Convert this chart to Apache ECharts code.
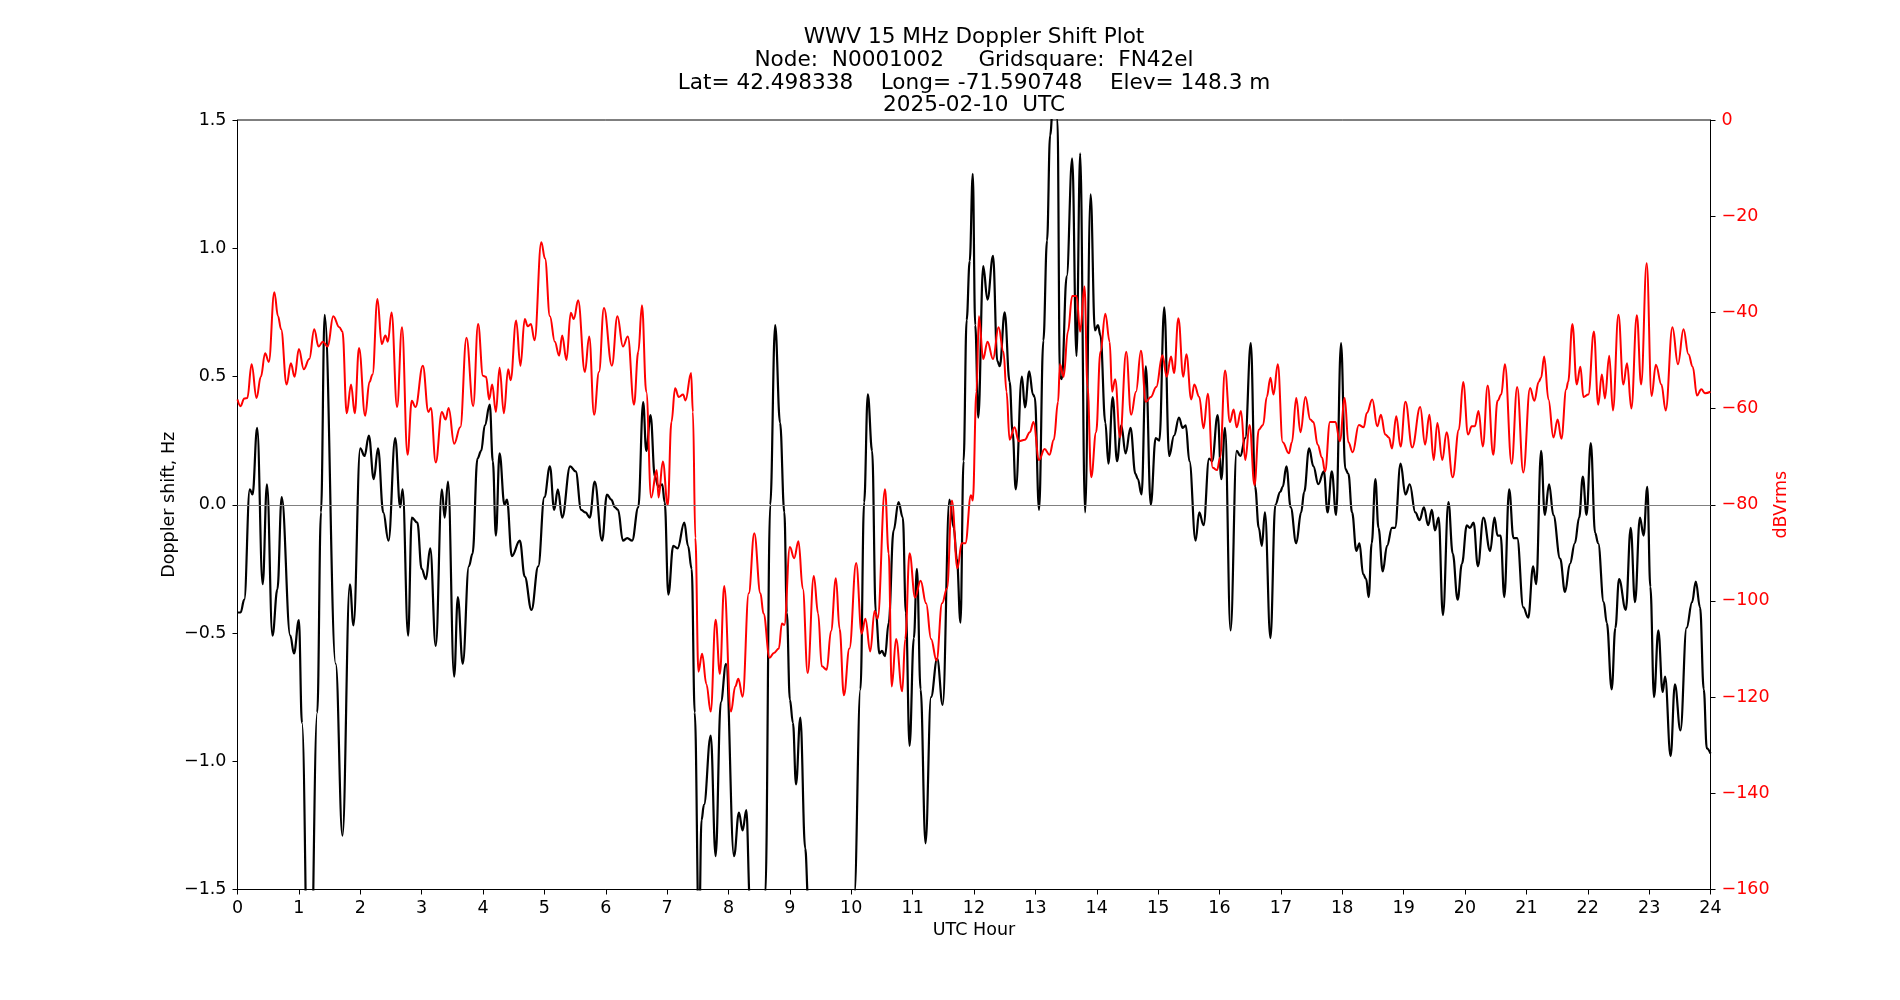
<!DOCTYPE html>
<html>
<head>
<meta charset="utf-8">
<script src="https://cdn.jsdelivr.net/npm/echarts@6/dist/echarts.min.js"></script>
<style>
html,body{margin:0;padding:0;background:#fff;}
#chart{width:1900px;height:1000px;}
</style>
</head>
<body>
<div id="chart"></div>
<script>
const titleLines = [
  'WWV 15 MHz Doppler Shift Plot',
  'Node:  N0001002     Gridsquare:  FN42el',
  'Lat= 42.498338    Long= -71.590748    Elev= 148.3 m',
  '2025-02-10  UTC'
];
const xAxisName = 'UTC Hour';
const leftAxisName = 'Doppler shift, Hz';
const rightAxisName = 'dBVrms';

const dopplerHours = [0.00,0.05,0.11,0.20,0.245,0.32,0.41,0.48,0.57,0.65,0.72,0.86,0.92,1.00,1.05,1.17,1.30,1.36,1.42,1.60,1.71,1.83,1.89,2.00,2.07,2.14,2.22,2.29,2.375,2.46,2.57,2.65,2.69,2.78,2.84,2.93,3.00,3.07,3.14,3.23,3.33,3.375,3.43,3.53,3.59,3.67,3.77,3.83,3.91,3.97,4.03,4.11,4.16,4.21,4.27,4.35,4.39,4.47,4.60,4.68,4.79,4.90,5.00,5.09,5.16,5.22,5.29,5.42,5.51,5.60,5.67,5.74,5.82,5.94,6.02,6.09,6.15,6.20,6.28,6.35,6.43,6.53,6.61,6.66,6.73,6.80,6.86,6.92,6.96,7.02,7.10,7.17,7.28,7.34,7.40,7.45,7.52,7.56,7.60,7.71,7.79,7.875,7.96,8.09,8.17,8.23,8.29,8.35,8.47,8.60,8.68,8.76,8.84,8.91,8.95,9.00,9.05,9.10,9.17,9.25,9.30,9.65,10.05,10.15,10.21,10.27,10.34,10.40,10.46,10.50,10.55,10.61,10.69,10.77,10.84,10.89,10.95,11.02,11.07,11.13,11.21,11.30,11.40,11.49,11.60,11.67,11.72,11.78,11.83,11.88,11.93,11.98,12.02,12.07,12.15,12.22,12.31,12.38,12.42,12.50,12.58,12.63,12.68,12.78,12.83,12.90,12.96,12.99,13.06,13.13,13.19,13.24,13.30,13.36,13.40,13.43,13.51,13.60,13.67,13.73,13.81,13.90,13.97,14.02,14.06,14.14,14.19,14.26,14.33,14.40,14.47,14.55,14.63,14.67,14.73,14.80,14.88,14.96,15.02,15.10,15.18,15.26,15.34,15.40,15.45,15.51,15.61,15.67,15.74,15.83,15.88,15.97,16.03,16.09,16.18,16.28,16.34,16.42,16.51,16.58,16.64,16.69,16.74,16.83,16.91,16.99,17.03,17.09,17.16,17.25,17.33,17.38,17.46,17.53,17.61,17.70,17.76,17.83,17.90,17.98,18.05,18.10,18.16,18.23,18.28,18.34,18.39,18.43,18.48,18.54,18.59,18.66,18.73,18.81,18.86,18.95,19.03,19.10,19.19,19.26,19.33,19.40,19.46,19.51,19.57,19.64,19.73,19.80,19.88,19.95,20.03,20.08,20.14,20.21,20.30,20.41,20.48,20.53,20.58,20.64,20.72,20.79,20.85,20.95,21.03,21.11,21.16,21.24,21.30,21.37,21.44,21.55,21.63,21.71,21.79,21.86,21.92,21.98,22.05,22.12,22.17,22.26,22.31,22.39,22.45,22.51,22.62,22.70,22.77,22.85,22.91,22.97,23.02,23.08,23.15,23.22,23.26,23.35,23.42,23.51,23.61,23.70,23.76,23.83,23.89,23.94,24.00];
const dopplerValues = [-0.42,-0.42,-0.37,0.06,0.04,0.30,-0.31,0.08,-0.51,-0.33,0.03,-0.51,-0.58,-0.45,-0.85,-2.2,-0.81,-0.03,0.74,-0.62,-1.29,-0.31,-0.47,0.22,0.19,0.27,0.10,0.22,-0.03,-0.14,0.26,-0.01,0.06,-0.51,-0.05,-0.07,-0.25,-0.29,-0.17,-0.55,0.06,-0.05,0.09,-0.67,-0.36,-0.62,-0.24,-0.19,0.18,0.21,0.31,0.39,0.17,-0.12,0.20,0.0,0.02,-0.20,-0.14,-0.28,-0.41,-0.24,0.03,0.15,-0.02,0.06,-0.05,0.15,0.13,-0.02,-0.03,-0.05,0.09,-0.14,0.04,0.02,-0.01,-0.02,-0.14,-0.13,-0.14,-0.01,0.40,0.21,0.35,0.11,0.07,0.08,0.01,-0.35,-0.16,-0.17,-0.07,-0.16,-0.25,-0.81,-1.7,-1.23,-1.17,-0.90,-1.37,-0.77,-0.62,-1.37,-1.20,-1.27,-1.19,-1.55,-1.95,-1.52,0.0,0.70,0.32,-0.03,-0.42,-0.76,-0.85,-1.09,-0.83,-1.34,-1.55,-2.3,-1.52,-0.72,0.01,0.43,0.21,-0.42,-0.58,-0.57,-0.59,-0.46,-0.10,0.01,-0.05,-0.42,-0.94,-0.52,-0.25,-0.72,-1.32,-0.75,-0.60,-0.78,0.02,-0.09,-0.21,-0.46,0.17,0.72,0.95,1.29,0.70,0.34,0.93,0.80,0.97,0.56,0.54,0.75,0.48,0.28,0.06,0.50,0.38,0.52,0.43,0.42,-0.02,0.64,1.03,1.44,1.62,1.50,0.50,0.49,0.89,1.35,0.58,1.37,-0.03,1.21,0.68,0.70,0.66,0.32,0.16,0.42,0.17,0.31,0.20,0.30,0.12,0.10,0.04,0.54,0.00,0.26,0.25,0.77,0.19,0.27,0.34,0.30,0.31,0.17,-0.14,-0.03,-0.08,0.18,0.17,0.35,0.10,0.30,-0.49,0.21,0.19,0.26,0.63,0.07,-0.09,-0.16,-0.03,-0.52,0.0,0.05,0.07,0.15,-0.01,-0.15,-0.03,0.05,0.22,0.15,0.08,0.13,-0.03,0.13,-0.04,0.63,0.14,0.12,-0.03,-0.18,-0.15,-0.27,-0.29,-0.36,-0.15,0.10,-0.09,-0.26,-0.16,-0.09,-0.09,0.16,0.04,0.08,-0.03,-0.06,-0.01,-0.08,-0.02,-0.10,-0.05,-0.43,0.01,-0.19,-0.37,-0.23,-0.08,-0.09,-0.07,-0.24,-0.05,-0.18,-0.05,-0.12,-0.12,-0.36,0.06,-0.13,-0.13,-0.40,-0.44,-0.24,-0.31,0.21,-0.04,0.08,-0.04,-0.21,-0.34,-0.23,-0.15,-0.05,0.11,-0.04,0.24,-0.11,-0.15,-0.38,-0.46,-0.72,-0.48,-0.29,-0.41,-0.09,-0.38,-0.05,-0.12,0.07,-0.32,-0.75,-0.49,-0.73,-0.67,-0.98,-0.70,-0.88,-0.48,-0.38,-0.30,-0.40,-0.72,-0.95,-0.97];

const powerHours = [0.00,0.05,0.11,0.16,0.23,0.31,0.38,0.45,0.51,0.60,0.66,0.71,0.80,0.87,0.93,1.00,1.08,1.17,1.25,1.32,1.39,1.47,1.56,1.66,1.71,1.78,1.85,1.91,1.98,2.08,2.15,2.20,2.28,2.35,2.41,2.45,2.51,2.60,2.68,2.77,2.84,2.90,3.02,3.11,3.15,3.23,3.33,3.39,3.44,3.53,3.63,3.73,3.84,3.92,4.00,4.05,4.10,4.15,4.21,4.27,4.34,4.41,4.45,4.54,4.61,4.68,4.73,4.78,4.84,4.95,5.01,5.09,5.17,5.24,5.29,5.36,5.43,5.48,5.55,5.66,5.73,5.81,5.89,5.97,6.10,6.19,6.28,6.36,6.46,6.53,6.59,6.66,6.74,6.83,6.86,6.93,7.01,7.07,7.13,7.19,7.26,7.30,7.39,7.42,7.46,7.51,7.57,7.64,7.71,7.79,7.86,7.93,8.04,8.11,8.16,8.23,8.33,8.42,8.52,8.57,8.67,8.74,8.82,8.87,8.91,9.00,9.07,9.14,9.21,9.29,9.39,9.46,9.52,9.60,9.67,9.75,9.81,9.88,9.97,10.08,10.17,10.23,10.31,10.38,10.43,10.55,10.61,10.66,10.73,10.83,10.88,10.95,11.04,11.13,11.22,11.30,11.39,11.48,11.56,11.64,11.73,11.80,11.86,11.95,11.98,12.04,12.08,12.15,12.22,12.31,12.40,12.48,12.53,12.58,12.66,12.73,12.83,12.91,12.97,13.06,13.15,13.23,13.30,13.37,13.40,13.46,13.53,13.60,13.67,13.73,13.80,13.85,13.91,13.99,14.06,14.14,14.21,14.25,14.30,14.38,14.48,14.56,14.64,14.72,14.80,14.88,14.97,15.07,15.14,15.21,15.26,15.33,15.41,15.46,15.54,15.59,15.67,15.74,15.81,15.89,15.96,16.01,16.09,16.17,16.23,16.28,16.35,16.42,16.49,16.57,16.64,16.71,16.77,16.83,16.88,16.95,17.03,17.13,17.18,17.25,17.32,17.40,17.48,17.53,17.60,17.67,17.72,17.80,17.89,17.96,18.04,18.10,18.17,18.27,18.35,18.40,18.49,18.57,18.63,18.70,18.76,18.81,18.88,18.95,19.03,19.14,19.27,19.35,19.42,19.49,19.55,19.63,19.70,19.80,19.90,19.97,20.05,20.11,20.16,20.22,20.29,20.37,20.46,20.53,20.59,20.65,20.76,20.85,20.95,21.06,21.13,21.20,21.24,21.29,21.36,21.44,21.51,21.57,21.65,21.68,21.75,21.82,21.88,21.93,22.01,22.10,22.17,22.23,22.28,22.35,22.41,22.50,22.58,22.64,22.71,22.80,22.87,22.96,23.04,23.11,23.20,23.27,23.38,23.47,23.56,23.64,23.71,23.78,23.85,23.91,24.00];
const powerValues = [-58.1,-59.5,-57.9,-57.8,-50.8,-57.8,-53.4,-48.5,-50.3,-35.8,-40.8,-43.5,-55.0,-50.6,-53.4,-47.6,-51.8,-49.7,-43.5,-47.1,-46.1,-47.1,-40.8,-43.1,-44.0,-61.0,-55.0,-61.0,-47.4,-61.5,-54.5,-52.9,-37.2,-46.6,-44.8,-46.1,-40.0,-59.7,-43.1,-69.6,-58.4,-59.7,-51.1,-60.7,-59.9,-71.2,-60.7,-62.3,-59.9,-67.3,-63.9,-45.3,-59.5,-42.4,-53.2,-53.4,-58.1,-55.0,-60.7,-51.5,-61.0,-51.8,-54.1,-41.7,-51.1,-41.4,-42.9,-42.4,-45.8,-25.4,-28.8,-40.8,-46.1,-49.0,-44.8,-49.9,-40.1,-41.4,-37.5,-52.4,-45.0,-61.3,-52.4,-39.1,-51.1,-40.8,-47.1,-45.0,-59.2,-48.2,-38.5,-56.5,-78.5,-72.8,-78.5,-71.0,-80.1,-62.8,-55.8,-57.6,-57.1,-58.3,-52.6,-60.7,-86.9,-114.7,-111.0,-117.3,-123.0,-103.9,-115.2,-96.9,-123.0,-117.8,-116.2,-119.9,-98.4,-85.9,-98.4,-102.6,-111.8,-110.8,-109.9,-104.7,-105.0,-88.8,-91.1,-87.6,-97.4,-115.0,-94.8,-102.6,-113.6,-114.3,-106.3,-95.3,-105.8,-119.6,-109.9,-92.1,-106.8,-103.7,-110.5,-102.1,-103.7,-76.8,-90.1,-117.8,-107.9,-118.8,-107.9,-90.1,-99.3,-95.8,-100.5,-107.9,-112.4,-100.5,-97.4,-79.1,-93.2,-88.0,-88.0,-78.0,-79.1,-56.5,-40.8,-49.7,-46.1,-49.7,-43.1,-48.2,-56.5,-66.5,-63.9,-66.8,-66.5,-64.9,-62.8,-70.7,-68.4,-69.6,-66.5,-58.6,-50.8,-53.4,-44.0,-36.6,-36.6,-44.0,-34.6,-55.5,-74.3,-64.9,-48.2,-40.3,-46.1,-56.5,-53.9,-66.0,-48.2,-61.3,-56.5,-48.0,-58.6,-57.6,-55.5,-48.9,-53.4,-49.2,-52.6,-41.2,-53.4,-48.7,-58.1,-55.0,-57.6,-64.1,-56.9,-72.3,-72.8,-70.2,-52.1,-62.8,-60.2,-63.9,-60.5,-70.7,-63.4,-75.9,-64.4,-63.4,-57.6,-53.6,-57.1,-50.8,-67.0,-69.3,-67.0,-57.8,-64.9,-57.6,-62.3,-62.8,-67.5,-70.2,-73.1,-62.8,-62.8,-66.8,-57.8,-67.0,-69.1,-63.4,-63.9,-60.9,-58.1,-63.7,-61.3,-65.4,-66.0,-68.3,-61.6,-67.9,-58.6,-68.1,-59.7,-67.5,-61.3,-70.7,-63.0,-70.7,-64.9,-74.3,-64.4,-54.5,-65.4,-63.7,-63.7,-60.5,-67.9,-55.2,-69.6,-58.4,-57.1,-50.8,-71.5,-55.5,-73.3,-55.7,-58.4,-54.5,-53.6,-49.2,-58.1,-66.0,-62.3,-66.3,-56.0,-54.5,-42.4,-55.0,-51.3,-57.6,-57.1,-44.0,-59.2,-52.9,-57.9,-49.0,-60.4,-40.5,-55.0,-50.6,-60.0,-40.6,-55.0,-29.8,-57.4,-50.9,-55.0,-60.4,-43.1,-50.8,-43.5,-48.7,-51.3,-57.3,-56.0,-56.8,-56.5];

const xTicks = {min: 0, max: 24, interval: 1};
const leftTicks = {min: -1.5, max: 1.5, interval: 0.5};
const rightTicks = {min: -160, max: 0, interval: 20};

const FONT = "'DejaVu Sans', sans-serif";
const minus = s => String(s).replace('-', '\u2212');

const dopplerData = dopplerHours.map((h, i) => [h, dopplerValues[i]]);
const powerData = powerHours.map((h, i) => [h, powerValues[i]]);

const chart = echarts.init(document.getElementById('chart'), null, {renderer: 'canvas'});
const titleY = [37.5, 60, 83, 105.5];
chart.setOption({
  animation: false,
  backgroundColor: '#fff',
  graphic: titleLines.map((t, i) => ({
    type: 'text', x: 974, y: titleY[i], silent: true,
    style: {text: t, font: '21.6px ' + FONT, fill: '#000', textAlign: 'center', textVerticalAlign: 'middle'}
  })),
  grid: {left: 237.5, right: 189.5, top: 120, bottom: 110.5, show: true, borderColor: '#000', borderWidth: 1, backgroundColor: 'transparent'},
  xAxis: {
    type: 'value', min: xTicks.min, max: xTicks.max, interval: xTicks.interval,
    name: xAxisName, nameLocation: 'middle', nameGap: 32, nameMoveOverlap: false,
    nameTextStyle: {fontFamily: FONT, fontSize: 17.5, color: '#000'},
    axisLine: {show: true, onZero: false, lineStyle: {color: '#000', width: 1}},
    axisTick: {show: true, inside: false, length: 5, lineStyle: {color: '#000', width: 1}},
    axisLabel: {margin: 10, fontFamily: FONT, fontSize: 17.5, color: '#000', formatter: v => minus(v)},
    splitLine: {show: false}
  },
  yAxis: [{
    type: 'value', position: 'left', min: leftTicks.min, max: leftTicks.max, interval: leftTicks.interval,
    name: leftAxisName, nameLocation: 'middle', nameGap: 59, nameRotate: 90, nameMoveOverlap: false,
    nameTextStyle: {fontFamily: FONT, fontSize: 17.5, color: '#000'},
    axisLine: {show: true, onZero: false, lineStyle: {color: '#000', width: 1}},
    axisTick: {show: true, length: 5, lineStyle: {color: '#000', width: 1}},
    axisLabel: {margin: 11, fontFamily: FONT, fontSize: 17.5, color: '#000', formatter: v => minus(v.toFixed(1))},
    splitLine: {show: false}
  }, {
    type: 'value', position: 'right', min: rightTicks.min, max: rightTicks.max, interval: rightTicks.interval,
    name: rightAxisName, nameLocation: 'middle', nameGap: 62, nameRotate: 90, nameMoveOverlap: false,
    nameTextStyle: {fontFamily: FONT, fontSize: 17.5, color: '#ff0000'},
    axisLine: {show: true, onZero: false, lineStyle: {color: '#000', width: 1}},
    axisTick: {show: true, length: 5, lineStyle: {color: '#000', width: 1}},
    axisLabel: {margin: 11, fontFamily: FONT, fontSize: 17.5, color: '#ff0000', formatter: v => minus(v)},
    splitLine: {show: false}
  }],
  series: [{
    type: 'line', name: 'Doppler', xAxisIndex: 0, yAxisIndex: 0, data: dopplerData,
    showSymbol: false, smooth: 0.4, smoothMonotone: 'x', clip: true,
    lineStyle: {color: '#000', width: 2.2}, z: 2,
    markLine: {
      silent: true, symbol: 'none', label: {show: false}, animation: false,
      lineStyle: {color: '#808080', width: 1, type: 'solid'},
      data: [{yAxis: 0}]
    }
  }, {
    type: 'line', name: 'Power', xAxisIndex: 0, yAxisIndex: 1, data: powerData,
    showSymbol: false, smooth: 0.4, smoothMonotone: 'x', clip: true,
    lineStyle: {color: '#ff0000', width: 2}, z: 3
  }]
});
</script>
</body>
</html>
